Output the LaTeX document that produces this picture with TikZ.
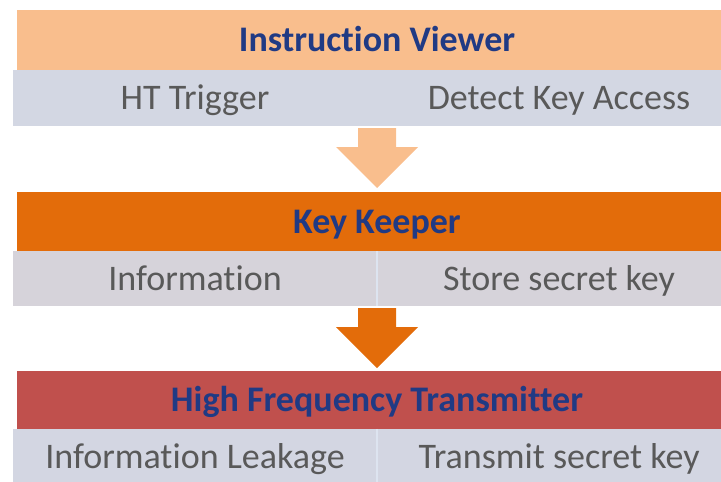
\documentclass[tikz,border=0pt]{standalone}
\usepackage{fontspec}
\setmainfont{Carlito}[Ligatures=NoCommon]
\definecolor{viewerfill}{HTML}{F9BE8D}
\definecolor{keeperfill}{HTML}{E36C0A}
\definecolor{transfill}{HTML}{C0504D}
\definecolor{rowone}{HTML}{D3D7E3}
\definecolor{rowtwo}{HTML}{D6D3DA}
\definecolor{rowthree}{HTML}{D3D6E2}
\definecolor{headblue}{HTML}{203A84}
\definecolor{celltext}{HTML}{595959}
\definecolor{divline}{HTML}{DDE4F0}
\begin{document}
\begin{tikzpicture}[x=1pt,y=-1pt,
  band/.style={rectangle, inner sep=0pt, minimum width=720pt, text=headblue,
    text height=30pt, text depth=7pt,
    font=\fontsize{36}{40}\selectfont\bfseries},
  cell/.style={rectangle, inner sep=0pt, minimum width=364pt, text=celltext,
    text height=30pt, text depth=7pt,
    font=\fontsize{36}{40}\selectfont},
  divider/.style={draw=divline, line width=1.5pt}]
\useasboundingbox (0,0) rectangle (721,482);
\clip (0,0) rectangle (721,482);

% Stage 1: instruction viewer
\node[band, fill=viewerfill, minimum height=60pt] (iv) at (377,40) {Instruction Viewer};
\node[cell, fill=rowone, minimum height=56pt] (ht) at (195,98) {HT Trigger};
\node[cell, fill=rowone, minimum height=56pt] (dk) at (559,98) {Detect Key Access};

% Stage 2: key keeper
\node[band, fill=keeperfill, minimum height=59pt] (kk) at (377,221.5) {Key Keeper};
\node[cell, fill=rowtwo, minimum height=55pt] (inf) at (195,278.5) {Information};
\node[cell, fill=rowtwo, minimum height=55pt] (ssk) at (559,278.5) {Store secret key};
\draw[divider] (inf.north east) -- (inf.south east);

% Stage 3: high frequency transmitter
\node[band, fill=transfill, minimum height=58pt] (hft) at (377,400) {High Frequency Transmitter};
\node[cell, fill=rowthree, minimum height=56pt] (il) at (195,457) {Information Leakage};
\node[cell, fill=rowthree, minimum height=56pt] (tsk) at (559,457) {Transmit secret key};
\draw[divider] (il.north east) -- (il.south east);

% Block arrows between the stages
\coordinate (a1tip) at (377,188);
\coordinate (a2tip) at (377,368);
\fill[viewerfill] (a1tip) -- ++(-41,-41) -- ++(22,0) -- ++(0,-19) -- ++(38,0)
  -- ++(0,19) -- ++(22,0) -- cycle;
\fill[keeperfill] (a2tip) -- ++(-41,-41) -- ++(22,0) -- ++(0,-19) -- ++(38,0)
  -- ++(0,19) -- ++(22,0) -- cycle;
\end{tikzpicture}
\end{document}
